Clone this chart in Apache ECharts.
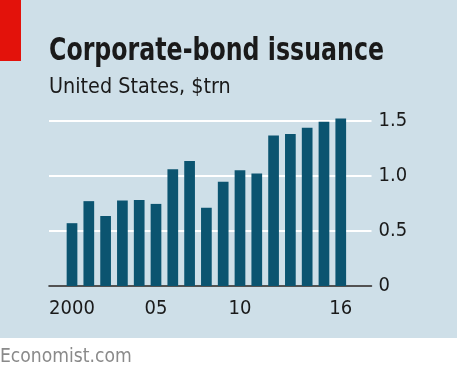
<!DOCTYPE html>
<html>
<head>
<meta charset="utf-8">
<script src="https://cdn.jsdelivr.net/npm/echarts@6/dist/echarts.min.js"></script>
<style>
  html, body { margin: 0; padding: 0; background: #ffffff; }
  #chart { width: 458px; height: 376px; }
</style>
</head>
<body>
<div id="chart"></div>
<script>
// Data
const years = [2000, 2001, 2002, 2003, 2004, 2005, 2006, 2007, 2008, 2009, 2010, 2011, 2012, 2013, 2014, 2015, 2016];
const issuance = [0.57, 0.77, 0.635, 0.775, 0.78, 0.745, 1.06, 1.135, 0.71, 0.945, 1.05, 1.02, 1.365, 1.38, 1.435, 1.49, 1.52];
const xTickValues = [2000, 2005, 2010, 2016];
const xTickLabels = ['2000', '05', '10', '16'];
const yTickValues = [0, 0.5, 1.0, 1.5];
const yTickLabels = ['0', '0.5', '1.0', '1.5'];

const titleText = 'Corporate-bond issuance';
const subtitleText = 'United States, $trn';
const sourceText = 'Economist.com';

const FONT = '"Liberation Sans Narrow", "DejaVu Sans Condensed", "Roboto", sans-serif';

const chart = echarts.init(document.getElementById('chart'), null, { renderer: 'canvas' });

const option = {
  animation: false,
  backgroundColor: '#ffffff',
  graphic: [
    { type: 'rect', z: -10, silent: true, shape: { x: 0, y: 0, width: 457, height: 338 }, style: { fill: '#cedfe8' } },
    { type: 'rect', z: -9, silent: true, shape: { x: 0, y: 0, width: 21, height: 61 }, style: { fill: '#e3120b' } },
    { type: 'text', x: 49, y: 36, scaleX: 0.823, style: { text: titleText, font: 'bold 32px ' + FONT, fill: '#1a1a1a', verticalAlign: 'top', align: 'left' } },
    { type: 'text', x: 49, y: 76.5, scaleX: 0.97, style: { text: subtitleText, font: '22px ' + FONT, fill: '#1a1a1a', verticalAlign: 'top', align: 'left' } },
    { type: 'text', x: 0, y: 346.5, scaleX: 0.956, style: { text: sourceText, font: '20px ' + FONT, fill: '#8a8a8a', verticalAlign: 'top', align: 'left' } }
  ],
  grid: { left: 49, right: 86.5, top: 120.7, bottom: 90, containLabel: false },
  xAxis: {
    type: 'value',
    min: 1998.63,
    max: 2017.83,
    splitLine: { show: false },
    axisTick: { show: false },
    axisLine: { show: true, onZero: true, lineStyle: { color: '#1a1a1a', width: 1.5 } },
    axisLabel: {
      customValues: xTickValues,
      formatter: function (v) { const i = xTickValues.indexOf(v); return i >= 0 ? xTickLabels[i] : ''; },
      color: '#1a1a1a',
      fontSize: 20,
      fontFamily: FONT,
      margin: 13
    }
  },
  yAxis: {
    type: 'value',
    position: 'right',
    min: 0,
    max: 1.5,
    interval: 0.5,
    axisLine: { show: false },
    axisTick: { show: false },
    splitLine: { show: true, lineStyle: { color: '#ffffff', width: 2 } },
    axisLabel: {
      formatter: function (v) { const i = yTickValues.findIndex(t => Math.abs(t - v) < 1e-9); return i >= 0 ? yTickLabels[i] : ''; },
      color: '#1a1a1a',
      fontSize: 20,
      fontFamily: FONT,
      margin: 7
    }
  },
  series: [{
    type: 'bar',
    data: years.map((y, i) => [y, issuance[i]]),
    barWidth: 10.7,
    clip: false,
    itemStyle: { color: '#0b5470' },
    z: 3
  }]
};
chart.setOption(option);
</script>
</body>
</html>
